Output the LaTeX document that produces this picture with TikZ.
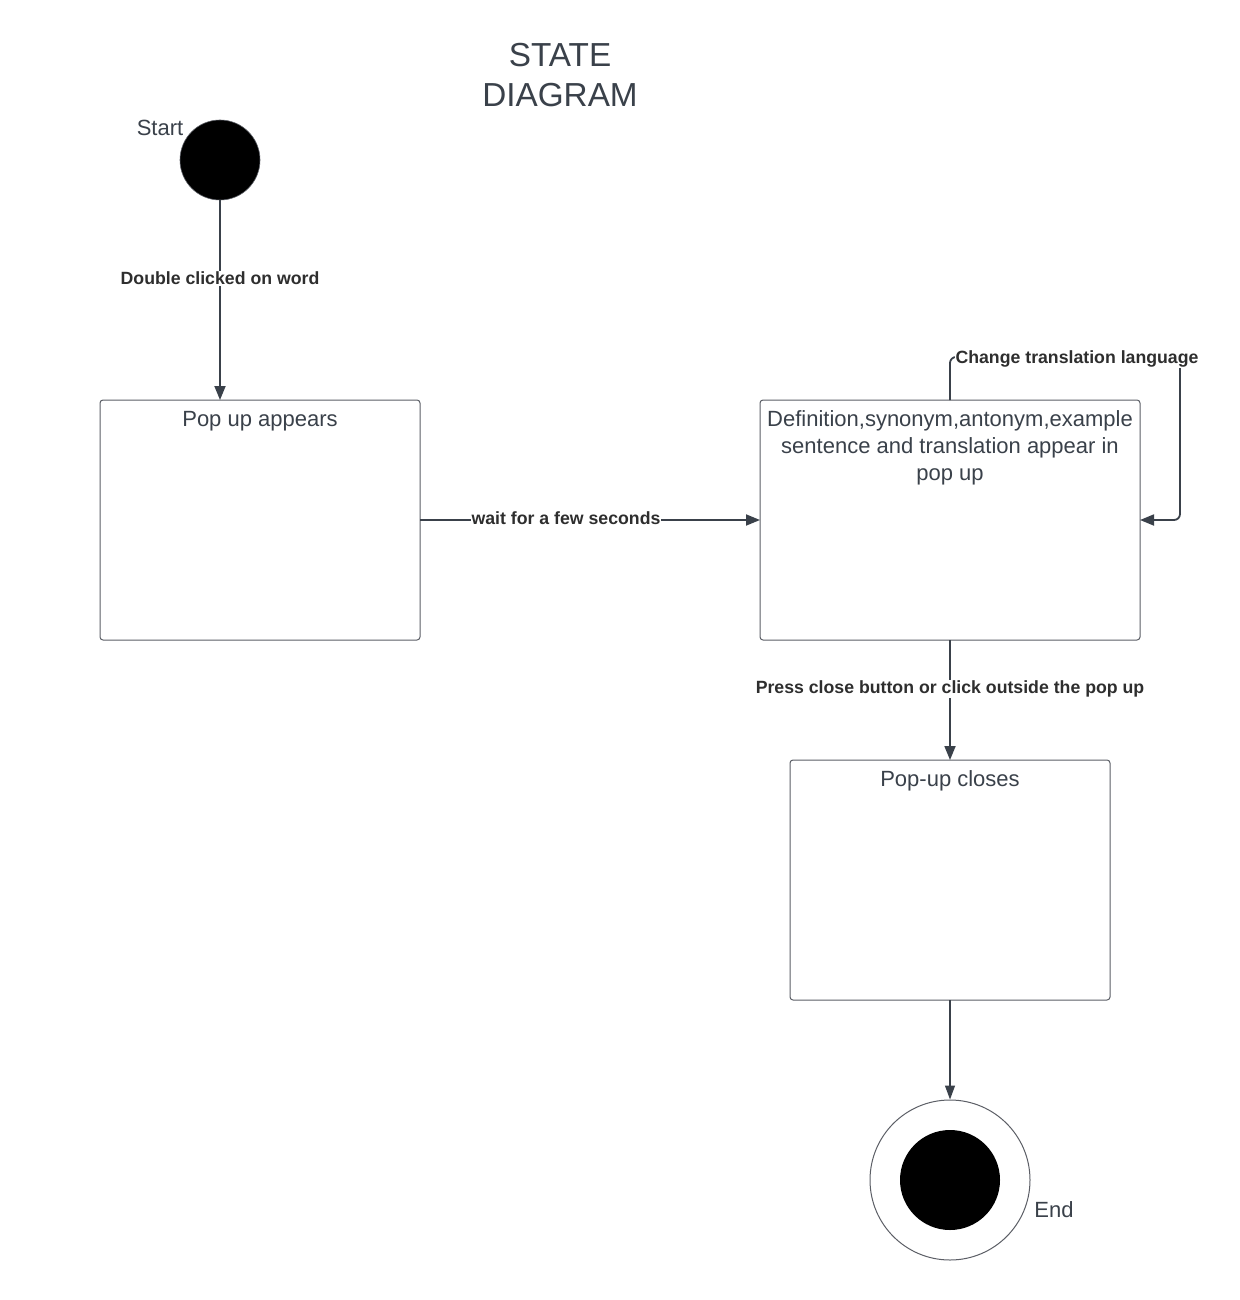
\documentclass[tikz,border=0pt]{standalone}
\usepackage{fontspec}
\setmainfont{Liberation Sans}
\usetikzlibrary{arrows.meta}
\definecolor{ink}{HTML}{3A414A}
\definecolor{edge}{HTML}{5C5F66}
\definecolor{lbl}{HTML}{2E2E2E}
\begin{document}
\begin{tikzpicture}[x=1pt,y=-1pt,
  statebox/.style={draw=edge,line width=1pt,rounded corners=3pt,fill=white},
  statetext/.style={text=ink,font=\fontsize{22}{27}\selectfont,align=center,anchor=north},
  flow/.style={draw=ink,line width=1.8pt,-{Triangle[length=14pt,width=11pt]}},
  flowlabel/.style={fill=white,text=lbl,font=\fontsize{17.7}{21}\selectfont\bfseries,inner sep=1pt}]
% canvas
\fill[white] (0,0) rectangle (1239,1300);
\useasboundingbox (0,0) rectangle (1239,1300);

% title
\node[text=ink,font=\fontsize{33.3}{40}\selectfont,align=center] (title) at (560,75) {STATE\\DIAGRAM};

% initial state
\node[circle,fill=black,draw=edge,line width=0.6pt,minimum size=80pt,inner sep=0pt] (start) at (220,160) {};
\node[text=ink,font=\fontsize{22}{26}\selectfont] (startlbl) at (160,127.5) {Start};

% states
\draw[statebox] (100,400) rectangle (420,640);
\node[statetext] (popuptxt) at (260,407.5) {Pop up appears};

\draw[statebox] (760,400) rectangle (1140,640);
\node[statetext] (infotxt) at (950,407.5) {Definition,synonym,antonym,example\\sentence and translation appear in\\pop up};

\draw[statebox] (790,760) rectangle (1110,1000);
\node[statetext] (closetxt) at (950,767.5) {Pop-up closes};

% points on the state borders where transitions attach
\coordinate (popupN) at (220,400);
\coordinate (popupE) at (420,520);
\coordinate (infoW) at (760,520);
\coordinate (infoE) at (1140,520);
\coordinate (infoN) at (950,400);
\coordinate (infoS) at (950,640);
\coordinate (closeN) at (950,760);
\coordinate (closeS) at (950,1000);

% final state
\node[circle,draw=edge,line width=1pt,fill=white,minimum size=160pt,inner sep=0pt] (finish) at (950,1180) {};
\node[circle,fill=black,minimum size=100pt,inner sep=0pt] (finishdot) at (950,1180) {};
\node[text=ink,font=\fontsize{22}{26}\selectfont] (endlbl) at (1054,1209.5) {End};

% transitions
\draw[flow] (start.south) -- (popupN);
\node[flowlabel] (l1) at (220,278.5) {Double clicked on word};

\draw[flow] (popupE) -- (infoW);
\node[flowlabel] (l2) at (566,518) {wait for a few seconds};

\draw[flow,rounded corners=6pt] (infoN) -- (950,357) -- (1180,357) -- (1180,520) -- (infoE);
\node[flowlabel] (l3) at (1077,358.5) {Change translation language};

\draw[flow] (infoS) -- (closeN);
\node[flowlabel] (l4) at (950,689) {Press close button or click outside the pop up};

\draw[draw=ink,line width=1.2pt,-{Triangle[length=14pt,width=10pt]}] (closeS) -- (finish.north);
\end{tikzpicture}
\end{document}
